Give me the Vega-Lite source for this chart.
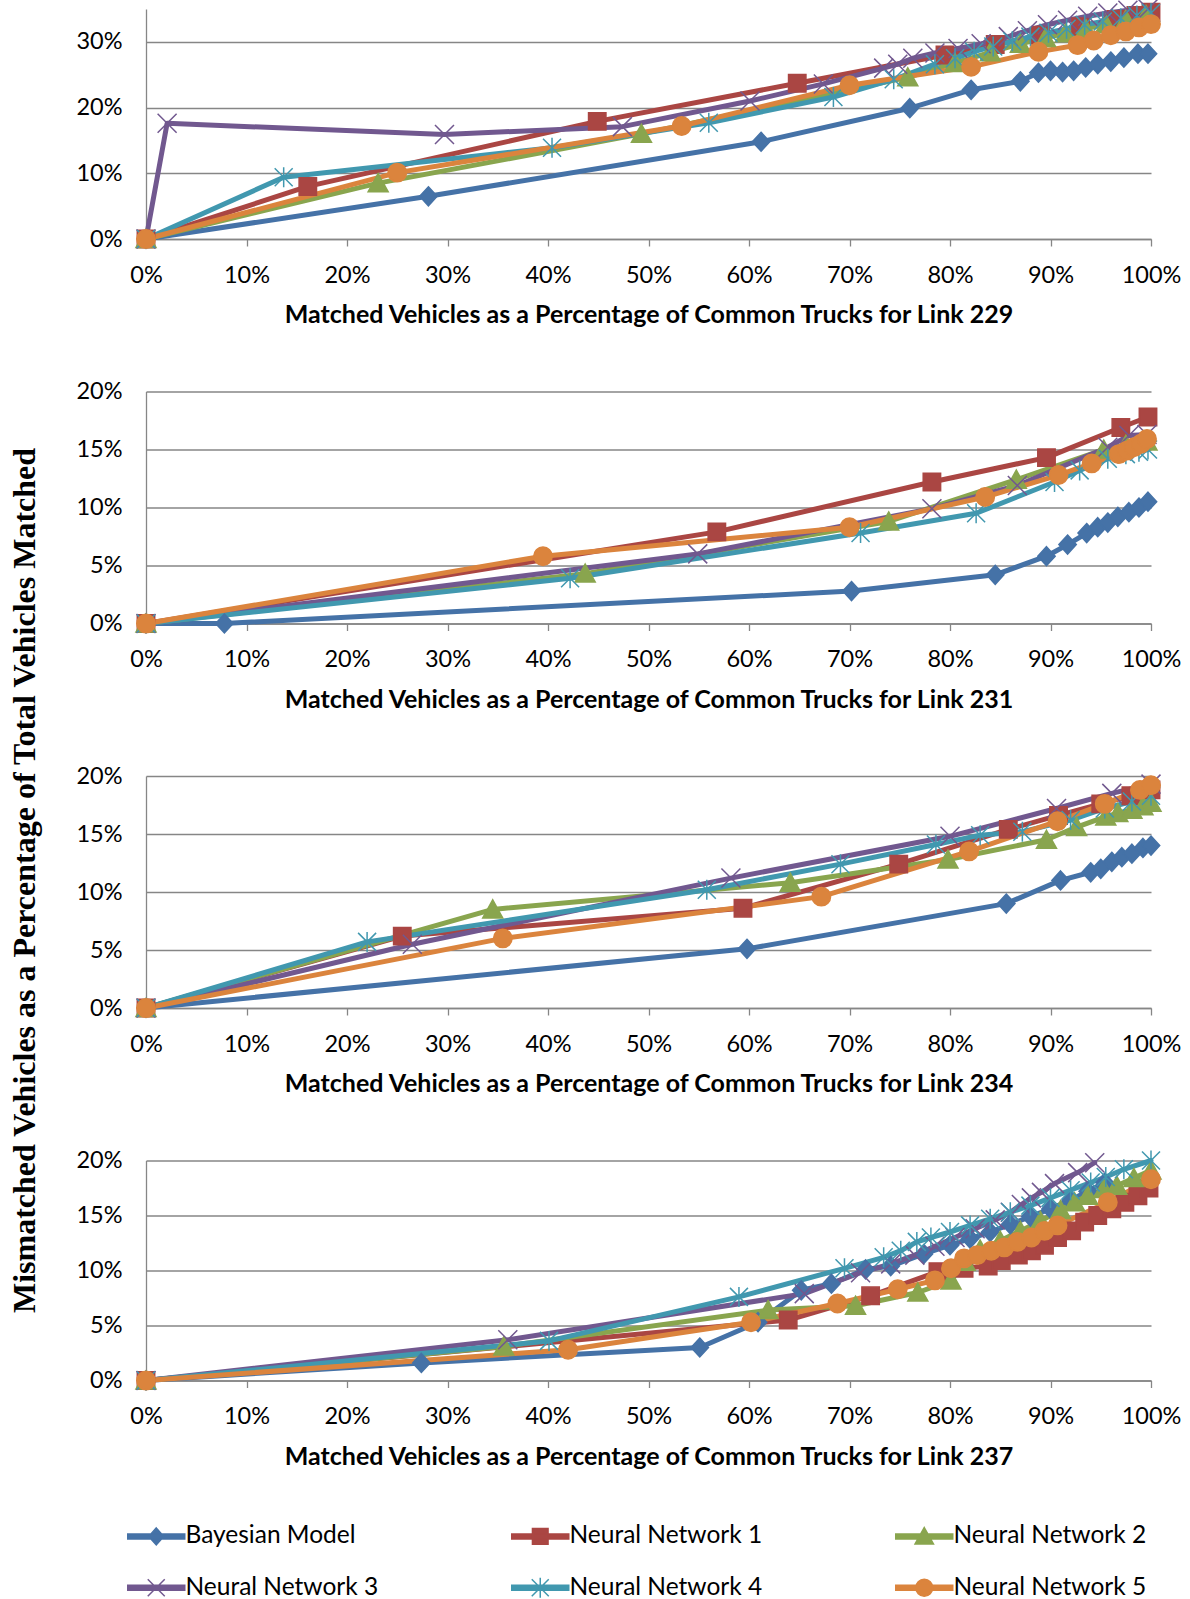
{
  "$schema": "https://vega.github.io/schema/vega-lite/v6.json",
  "background": "white",
  "padding": {"left": 8, "top": -4, "right": 0, "bottom": 0},
  "bounds": "flush",
  "config": {
    "font": "Lato",
    "view": {"stroke": null},
    "concat": {"spacing": 152.5},
    "axis": {
      "domainColor": "#868686", "domainWidth": 1.3,
      "gridColor": "#868686", "gridWidth": 1.3,
      "tickColor": "#868686", "tickWidth": 1.3,
      "labelFont": "Lato", "labelFontSize": 23.5, "labelColor": "#000000",
      "titleFont": "Lato", "titleFontSize": 25, "titleFontWeight": "bold", "titleColor": "#000000",
      "labelOverlap": false
    },
    "axisX": {"grid": false, "tickSize": 7, "labelPadding": 17, "titlePadding": 16, "labelFlush": false},
    "axisY": {"grid": true, "ticks": false, "labelPadding": 24}
  },
  "data": {"values": [
    {"link":229,"series":"Bayesian Model","x":0,"y":0},
    {"link":229,"series":"Bayesian Model","x":28.1,"y":6.5},
    {"link":229,"series":"Bayesian Model","x":61.2,"y":14.8},
    {"link":229,"series":"Bayesian Model","x":76.0,"y":19.9},
    {"link":229,"series":"Bayesian Model","x":82.1,"y":22.7},
    {"link":229,"series":"Bayesian Model","x":87.0,"y":24.0},
    {"link":229,"series":"Bayesian Model","x":88.8,"y":25.3},
    {"link":229,"series":"Bayesian Model","x":90.0,"y":25.6},
    {"link":229,"series":"Bayesian Model","x":91.2,"y":25.4},
    {"link":229,"series":"Bayesian Model","x":92.3,"y":25.6},
    {"link":229,"series":"Bayesian Model","x":93.5,"y":26.1},
    {"link":229,"series":"Bayesian Model","x":94.7,"y":26.6},
    {"link":229,"series":"Bayesian Model","x":96.0,"y":27.0},
    {"link":229,"series":"Bayesian Model","x":97.3,"y":27.6},
    {"link":229,"series":"Bayesian Model","x":98.7,"y":28.2},
    {"link":229,"series":"Bayesian Model","x":99.7,"y":28.2},
    {"link":229,"series":"Neural Network 1","x":0,"y":0},
    {"link":229,"series":"Neural Network 1","x":16.1,"y":8.0},
    {"link":229,"series":"Neural Network 1","x":44.9,"y":17.9},
    {"link":229,"series":"Neural Network 1","x":64.8,"y":23.7},
    {"link":229,"series":"Neural Network 1","x":79.5,"y":28.0},
    {"link":229,"series":"Neural Network 1","x":84.5,"y":29.6},
    {"link":229,"series":"Neural Network 1","x":89.0,"y":31.0},
    {"link":229,"series":"Neural Network 1","x":93.0,"y":32.3},
    {"link":229,"series":"Neural Network 1","x":96.5,"y":33.4},
    {"link":229,"series":"Neural Network 1","x":98.5,"y":34.0},
    {"link":229,"series":"Neural Network 1","x":100,"y":34.5},
    {"link":229,"series":"Neural Network 2","x":0,"y":0},
    {"link":229,"series":"Neural Network 2","x":23.1,"y":8.5},
    {"link":229,"series":"Neural Network 2","x":49.3,"y":16.0},
    {"link":229,"series":"Neural Network 2","x":75.8,"y":24.6},
    {"link":229,"series":"Neural Network 2","x":80.5,"y":26.8},
    {"link":229,"series":"Neural Network 2","x":84.0,"y":28.4},
    {"link":229,"series":"Neural Network 2","x":87.0,"y":29.7},
    {"link":229,"series":"Neural Network 2","x":89.5,"y":30.6},
    {"link":229,"series":"Neural Network 2","x":91.5,"y":31.3},
    {"link":229,"series":"Neural Network 2","x":93.5,"y":32.0},
    {"link":229,"series":"Neural Network 2","x":95.5,"y":32.7},
    {"link":229,"series":"Neural Network 2","x":97.5,"y":33.4},
    {"link":229,"series":"Neural Network 2","x":99.5,"y":34.1},
    {"link":229,"series":"Neural Network 3","x":0,"y":0},
    {"link":229,"series":"Neural Network 3","x":2.1,"y":17.6},
    {"link":229,"series":"Neural Network 3","x":29.7,"y":15.9},
    {"link":229,"series":"Neural Network 3","x":47.4,"y":17.1},
    {"link":229,"series":"Neural Network 3","x":60.1,"y":21.0},
    {"link":229,"series":"Neural Network 3","x":67.4,"y":23.6},
    {"link":229,"series":"Neural Network 3","x":73.4,"y":26.0},
    {"link":229,"series":"Neural Network 3","x":74.8,"y":26.6},
    {"link":229,"series":"Neural Network 3","x":76.3,"y":27.5},
    {"link":229,"series":"Neural Network 3","x":78.5,"y":28.3},
    {"link":229,"series":"Neural Network 3","x":80.8,"y":29.0},
    {"link":229,"series":"Neural Network 3","x":83.1,"y":29.7},
    {"link":229,"series":"Neural Network 3","x":85.8,"y":30.8},
    {"link":229,"series":"Neural Network 3","x":87.7,"y":31.7},
    {"link":229,"series":"Neural Network 3","x":89.7,"y":32.6},
    {"link":229,"series":"Neural Network 3","x":91.7,"y":33.3},
    {"link":229,"series":"Neural Network 3","x":93.7,"y":33.9},
    {"link":229,"series":"Neural Network 3","x":95.7,"y":34.4},
    {"link":229,"series":"Neural Network 3","x":97.7,"y":34.8},
    {"link":229,"series":"Neural Network 3","x":99.7,"y":35.0},
    {"link":229,"series":"Neural Network 4","x":0,"y":0},
    {"link":229,"series":"Neural Network 4","x":13.7,"y":9.4},
    {"link":229,"series":"Neural Network 4","x":40.4,"y":13.9},
    {"link":229,"series":"Neural Network 4","x":56.0,"y":17.7},
    {"link":229,"series":"Neural Network 4","x":68.4,"y":21.6},
    {"link":229,"series":"Neural Network 4","x":74.4,"y":24.3},
    {"link":229,"series":"Neural Network 4","x":78.5,"y":26.6},
    {"link":229,"series":"Neural Network 4","x":80.5,"y":27.5},
    {"link":229,"series":"Neural Network 4","x":82.4,"y":28.5},
    {"link":229,"series":"Neural Network 4","x":84.3,"y":29.3},
    {"link":229,"series":"Neural Network 4","x":86.2,"y":30.1},
    {"link":229,"series":"Neural Network 4","x":88.0,"y":30.8},
    {"link":229,"series":"Neural Network 4","x":89.8,"y":31.4},
    {"link":229,"series":"Neural Network 4","x":91.6,"y":32.0},
    {"link":229,"series":"Neural Network 4","x":93.4,"y":32.6},
    {"link":229,"series":"Neural Network 4","x":95.2,"y":33.1},
    {"link":229,"series":"Neural Network 4","x":97.0,"y":33.6},
    {"link":229,"series":"Neural Network 4","x":98.6,"y":34.0},
    {"link":229,"series":"Neural Network 4","x":100,"y":34.4},
    {"link":229,"series":"Neural Network 5","x":0,"y":0},
    {"link":229,"series":"Neural Network 5","x":25.0,"y":10.1},
    {"link":229,"series":"Neural Network 5","x":53.3,"y":17.2},
    {"link":229,"series":"Neural Network 5","x":70.0,"y":23.4},
    {"link":229,"series":"Neural Network 5","x":82.1,"y":26.2},
    {"link":229,"series":"Neural Network 5","x":88.8,"y":28.5},
    {"link":229,"series":"Neural Network 5","x":92.7,"y":29.5},
    {"link":229,"series":"Neural Network 5","x":94.3,"y":30.2},
    {"link":229,"series":"Neural Network 5","x":96.0,"y":31.0},
    {"link":229,"series":"Neural Network 5","x":97.5,"y":31.6},
    {"link":229,"series":"Neural Network 5","x":98.8,"y":32.2},
    {"link":229,"series":"Neural Network 5","x":100,"y":32.7},

    {"link":231,"series":"Bayesian Model","x":0,"y":0},
    {"link":231,"series":"Bayesian Model","x":7.8,"y":0},
    {"link":231,"series":"Bayesian Model","x":70.2,"y":2.8},
    {"link":231,"series":"Bayesian Model","x":84.5,"y":4.2},
    {"link":231,"series":"Bayesian Model","x":89.6,"y":5.8},
    {"link":231,"series":"Bayesian Model","x":91.7,"y":6.8},
    {"link":231,"series":"Bayesian Model","x":93.6,"y":7.8},
    {"link":231,"series":"Bayesian Model","x":94.7,"y":8.3},
    {"link":231,"series":"Bayesian Model","x":95.7,"y":8.7},
    {"link":231,"series":"Bayesian Model","x":96.7,"y":9.2},
    {"link":231,"series":"Bayesian Model","x":97.8,"y":9.6},
    {"link":231,"series":"Bayesian Model","x":98.8,"y":10.0},
    {"link":231,"series":"Bayesian Model","x":99.7,"y":10.5},
    {"link":231,"series":"Neural Network 1","x":0,"y":0},
    {"link":231,"series":"Neural Network 1","x":56.8,"y":7.9},
    {"link":231,"series":"Neural Network 1","x":78.2,"y":12.2},
    {"link":231,"series":"Neural Network 1","x":89.6,"y":14.3},
    {"link":231,"series":"Neural Network 1","x":97.0,"y":16.9},
    {"link":231,"series":"Neural Network 1","x":99.7,"y":17.8},
    {"link":231,"series":"Neural Network 2","x":0,"y":0},
    {"link":231,"series":"Neural Network 2","x":43.7,"y":4.3},
    {"link":231,"series":"Neural Network 2","x":73.9,"y":8.8},
    {"link":231,"series":"Neural Network 2","x":86.6,"y":12.4},
    {"link":231,"series":"Neural Network 2","x":95.3,"y":15.0},
    {"link":231,"series":"Neural Network 2","x":97.5,"y":15.4},
    {"link":231,"series":"Neural Network 2","x":99.6,"y":15.7},
    {"link":231,"series":"Neural Network 3","x":0,"y":0},
    {"link":231,"series":"Neural Network 3","x":54.9,"y":6.0},
    {"link":231,"series":"Neural Network 3","x":78.2,"y":9.9},
    {"link":231,"series":"Neural Network 3","x":86.7,"y":11.9},
    {"link":231,"series":"Neural Network 3","x":95.7,"y":15.2},
    {"link":231,"series":"Neural Network 3","x":97.8,"y":16.2},
    {"link":231,"series":"Neural Network 3","x":99.6,"y":16.3},
    {"link":231,"series":"Neural Network 4","x":0,"y":0},
    {"link":231,"series":"Neural Network 4","x":42.2,"y":3.9},
    {"link":231,"series":"Neural Network 4","x":71.1,"y":7.8},
    {"link":231,"series":"Neural Network 4","x":82.6,"y":9.5},
    {"link":231,"series":"Neural Network 4","x":90.4,"y":12.2},
    {"link":231,"series":"Neural Network 4","x":92.9,"y":13.2},
    {"link":231,"series":"Neural Network 4","x":95.7,"y":14.2},
    {"link":231,"series":"Neural Network 4","x":97.5,"y":14.6},
    {"link":231,"series":"Neural Network 4","x":98.8,"y":14.8},
    {"link":231,"series":"Neural Network 4","x":99.7,"y":15.0},
    {"link":231,"series":"Neural Network 5","x":0,"y":0},
    {"link":231,"series":"Neural Network 5","x":39.5,"y":5.8},
    {"link":231,"series":"Neural Network 5","x":70.0,"y":8.3},
    {"link":231,"series":"Neural Network 5","x":83.5,"y":10.9},
    {"link":231,"series":"Neural Network 5","x":90.8,"y":12.8},
    {"link":231,"series":"Neural Network 5","x":94.1,"y":13.8},
    {"link":231,"series":"Neural Network 5","x":96.8,"y":14.6},
    {"link":231,"series":"Neural Network 5","x":97.6,"y":14.9},
    {"link":231,"series":"Neural Network 5","x":98.3,"y":15.2},
    {"link":231,"series":"Neural Network 5","x":99.0,"y":15.5},
    {"link":231,"series":"Neural Network 5","x":99.6,"y":15.9},

    {"link":234,"series":"Bayesian Model","x":0,"y":0},
    {"link":234,"series":"Bayesian Model","x":59.8,"y":5.1},
    {"link":234,"series":"Bayesian Model","x":85.6,"y":9.0},
    {"link":234,"series":"Bayesian Model","x":91.0,"y":11.0},
    {"link":234,"series":"Bayesian Model","x":94.0,"y":11.7},
    {"link":234,"series":"Bayesian Model","x":95.0,"y":12.0},
    {"link":234,"series":"Bayesian Model","x":96.1,"y":12.6},
    {"link":234,"series":"Bayesian Model","x":97.1,"y":13.0},
    {"link":234,"series":"Bayesian Model","x":98.1,"y":13.3},
    {"link":234,"series":"Bayesian Model","x":99.2,"y":13.8},
    {"link":234,"series":"Bayesian Model","x":100,"y":14.0},
    {"link":234,"series":"Neural Network 1","x":0,"y":0},
    {"link":234,"series":"Neural Network 1","x":25.5,"y":6.2},
    {"link":234,"series":"Neural Network 1","x":59.4,"y":8.6},
    {"link":234,"series":"Neural Network 1","x":74.9,"y":12.4},
    {"link":234,"series":"Neural Network 1","x":85.8,"y":15.4},
    {"link":234,"series":"Neural Network 1","x":90.8,"y":16.6},
    {"link":234,"series":"Neural Network 1","x":95.0,"y":17.6},
    {"link":234,"series":"Neural Network 1","x":98.0,"y":18.3},
    {"link":234,"series":"Neural Network 1","x":100,"y":18.8},
    {"link":234,"series":"Neural Network 2","x":0,"y":0},
    {"link":234,"series":"Neural Network 2","x":34.5,"y":8.5},
    {"link":234,"series":"Neural Network 2","x":64.1,"y":10.8},
    {"link":234,"series":"Neural Network 2","x":79.8,"y":12.8},
    {"link":234,"series":"Neural Network 2","x":89.6,"y":14.5},
    {"link":234,"series":"Neural Network 2","x":92.6,"y":15.6},
    {"link":234,"series":"Neural Network 2","x":95.5,"y":16.5},
    {"link":234,"series":"Neural Network 2","x":96.7,"y":16.8},
    {"link":234,"series":"Neural Network 2","x":98.1,"y":17.1},
    {"link":234,"series":"Neural Network 2","x":99.2,"y":17.4},
    {"link":234,"series":"Neural Network 2","x":100,"y":17.7},
    {"link":234,"series":"Neural Network 3","x":0,"y":0},
    {"link":234,"series":"Neural Network 3","x":26.5,"y":5.5},
    {"link":234,"series":"Neural Network 3","x":58.2,"y":11.2},
    {"link":234,"series":"Neural Network 3","x":80.0,"y":14.8},
    {"link":234,"series":"Neural Network 3","x":90.6,"y":17.2},
    {"link":234,"series":"Neural Network 3","x":96.1,"y":18.5},
    {"link":234,"series":"Neural Network 3","x":100,"y":19.3},
    {"link":234,"series":"Neural Network 4","x":0,"y":0},
    {"link":234,"series":"Neural Network 4","x":22.0,"y":5.7},
    {"link":234,"series":"Neural Network 4","x":55.8,"y":10.2},
    {"link":234,"series":"Neural Network 4","x":69.1,"y":12.4},
    {"link":234,"series":"Neural Network 4","x":78.6,"y":14.1},
    {"link":234,"series":"Neural Network 4","x":83.0,"y":14.9},
    {"link":234,"series":"Neural Network 4","x":87.2,"y":15.2},
    {"link":234,"series":"Neural Network 4","x":92.0,"y":16.2},
    {"link":234,"series":"Neural Network 4","x":95.4,"y":17.2},
    {"link":234,"series":"Neural Network 4","x":98.1,"y":17.8},
    {"link":234,"series":"Neural Network 4","x":100,"y":18.3},
    {"link":234,"series":"Neural Network 5","x":0,"y":0},
    {"link":234,"series":"Neural Network 5","x":35.5,"y":6.0},
    {"link":234,"series":"Neural Network 5","x":67.2,"y":9.6},
    {"link":234,"series":"Neural Network 5","x":81.9,"y":13.5},
    {"link":234,"series":"Neural Network 5","x":90.7,"y":16.1},
    {"link":234,"series":"Neural Network 5","x":95.4,"y":17.6},
    {"link":234,"series":"Neural Network 5","x":98.9,"y":18.8},
    {"link":234,"series":"Neural Network 5","x":100,"y":19.2},

    {"link":237,"series":"Bayesian Model","x":0,"y":0},
    {"link":237,"series":"Bayesian Model","x":27.4,"y":1.6},
    {"link":237,"series":"Bayesian Model","x":55.1,"y":3.0},
    {"link":237,"series":"Bayesian Model","x":60.9,"y":5.3},
    {"link":237,"series":"Bayesian Model","x":65.2,"y":8.2},
    {"link":237,"series":"Bayesian Model","x":68.2,"y":8.8},
    {"link":237,"series":"Bayesian Model","x":71.6,"y":10.1},
    {"link":237,"series":"Bayesian Model","x":74.1,"y":10.4},
    {"link":237,"series":"Bayesian Model","x":77.4,"y":11.5},
    {"link":237,"series":"Bayesian Model","x":80.0,"y":12.3},
    {"link":237,"series":"Bayesian Model","x":82.0,"y":12.9},
    {"link":237,"series":"Bayesian Model","x":84.0,"y":13.5},
    {"link":237,"series":"Bayesian Model","x":86.0,"y":14.2},
    {"link":237,"series":"Bayesian Model","x":88.0,"y":14.9},
    {"link":237,"series":"Bayesian Model","x":90.0,"y":15.6},
    {"link":237,"series":"Bayesian Model","x":92.0,"y":16.4},
    {"link":237,"series":"Bayesian Model","x":93.7,"y":17.2},
    {"link":237,"series":"Bayesian Model","x":95.4,"y":18.0},
    {"link":237,"series":"Neural Network 1","x":0,"y":0},
    {"link":237,"series":"Neural Network 1","x":63.9,"y":5.5},
    {"link":237,"series":"Neural Network 1","x":72.1,"y":7.7},
    {"link":237,"series":"Neural Network 1","x":78.8,"y":9.9},
    {"link":237,"series":"Neural Network 1","x":81.4,"y":10.2},
    {"link":237,"series":"Neural Network 1","x":83.8,"y":10.4},
    {"link":237,"series":"Neural Network 1","x":85.1,"y":10.9},
    {"link":237,"series":"Neural Network 1","x":86.8,"y":11.4},
    {"link":237,"series":"Neural Network 1","x":88.1,"y":11.8},
    {"link":237,"series":"Neural Network 1","x":89.4,"y":12.3},
    {"link":237,"series":"Neural Network 1","x":90.7,"y":13.0},
    {"link":237,"series":"Neural Network 1","x":92.1,"y":13.6},
    {"link":237,"series":"Neural Network 1","x":93.4,"y":14.4},
    {"link":237,"series":"Neural Network 1","x":94.7,"y":15.0},
    {"link":237,"series":"Neural Network 1","x":96.1,"y":15.6},
    {"link":237,"series":"Neural Network 1","x":97.4,"y":16.2},
    {"link":237,"series":"Neural Network 1","x":98.7,"y":16.8},
    {"link":237,"series":"Neural Network 1","x":99.8,"y":17.5},
    {"link":237,"series":"Neural Network 2","x":0,"y":0},
    {"link":237,"series":"Neural Network 2","x":35.6,"y":3.1},
    {"link":237,"series":"Neural Network 2","x":61.9,"y":6.4},
    {"link":237,"series":"Neural Network 2","x":70.6,"y":6.8},
    {"link":237,"series":"Neural Network 2","x":76.8,"y":8.0},
    {"link":237,"series":"Neural Network 2","x":80.1,"y":9.1},
    {"link":237,"series":"Neural Network 2","x":81.5,"y":10.8},
    {"link":237,"series":"Neural Network 2","x":83.0,"y":11.9},
    {"link":237,"series":"Neural Network 2","x":85.0,"y":12.7},
    {"link":237,"series":"Neural Network 2","x":87.0,"y":13.6},
    {"link":237,"series":"Neural Network 2","x":89.0,"y":14.5},
    {"link":237,"series":"Neural Network 2","x":91.0,"y":15.5},
    {"link":237,"series":"Neural Network 2","x":92.4,"y":16.2},
    {"link":237,"series":"Neural Network 2","x":93.7,"y":16.8},
    {"link":237,"series":"Neural Network 2","x":95.3,"y":17.4},
    {"link":237,"series":"Neural Network 2","x":96.6,"y":17.7},
    {"link":237,"series":"Neural Network 2","x":98.3,"y":18.4},
    {"link":237,"series":"Neural Network 2","x":100,"y":19.1},
    {"link":237,"series":"Neural Network 3","x":0,"y":0},
    {"link":237,"series":"Neural Network 3","x":36.0,"y":3.7},
    {"link":237,"series":"Neural Network 3","x":65.5,"y":7.9},
    {"link":237,"series":"Neural Network 3","x":71.1,"y":9.8},
    {"link":237,"series":"Neural Network 3","x":74.1,"y":10.6},
    {"link":237,"series":"Neural Network 3","x":76.5,"y":11.4},
    {"link":237,"series":"Neural Network 3","x":78.5,"y":12.2},
    {"link":237,"series":"Neural Network 3","x":80.5,"y":13.0},
    {"link":237,"series":"Neural Network 3","x":82.5,"y":13.8},
    {"link":237,"series":"Neural Network 3","x":84.5,"y":14.6},
    {"link":237,"series":"Neural Network 3","x":86.0,"y":15.3},
    {"link":237,"series":"Neural Network 3","x":87.1,"y":16.0},
    {"link":237,"series":"Neural Network 3","x":88.1,"y":16.6},
    {"link":237,"series":"Neural Network 3","x":89.1,"y":17.1},
    {"link":237,"series":"Neural Network 3","x":90.4,"y":17.9},
    {"link":237,"series":"Neural Network 3","x":92.7,"y":18.9},
    {"link":237,"series":"Neural Network 3","x":94.4,"y":19.8},
    {"link":237,"series":"Neural Network 4","x":0,"y":0},
    {"link":237,"series":"Neural Network 4","x":40.1,"y":3.6},
    {"link":237,"series":"Neural Network 4","x":59.0,"y":7.6},
    {"link":237,"series":"Neural Network 4","x":69.5,"y":10.2},
    {"link":237,"series":"Neural Network 4","x":73.4,"y":11.2},
    {"link":237,"series":"Neural Network 4","x":75.1,"y":11.8},
    {"link":237,"series":"Neural Network 4","x":76.7,"y":12.6},
    {"link":237,"series":"Neural Network 4","x":78.1,"y":13.0},
    {"link":237,"series":"Neural Network 4","x":80.0,"y":13.5},
    {"link":237,"series":"Neural Network 4","x":82.0,"y":14.1},
    {"link":237,"series":"Neural Network 4","x":84.0,"y":14.7},
    {"link":237,"series":"Neural Network 4","x":86.0,"y":15.3},
    {"link":237,"series":"Neural Network 4","x":88.0,"y":15.9},
    {"link":237,"series":"Neural Network 4","x":90.0,"y":16.6},
    {"link":237,"series":"Neural Network 4","x":92.0,"y":17.3},
    {"link":237,"series":"Neural Network 4","x":94.0,"y":18.0},
    {"link":237,"series":"Neural Network 4","x":95.5,"y":18.5},
    {"link":237,"series":"Neural Network 4","x":97.3,"y":19.2},
    {"link":237,"series":"Neural Network 4","x":100,"y":20.0},
    {"link":237,"series":"Neural Network 5","x":0,"y":0},
    {"link":237,"series":"Neural Network 5","x":42.0,"y":2.8},
    {"link":237,"series":"Neural Network 5","x":60.2,"y":5.3},
    {"link":237,"series":"Neural Network 5","x":68.8,"y":7.0},
    {"link":237,"series":"Neural Network 5","x":74.8,"y":8.3},
    {"link":237,"series":"Neural Network 5","x":78.5,"y":9.1},
    {"link":237,"series":"Neural Network 5","x":80.1,"y":10.2},
    {"link":237,"series":"Neural Network 5","x":81.4,"y":11.1},
    {"link":237,"series":"Neural Network 5","x":82.7,"y":11.4},
    {"link":237,"series":"Neural Network 5","x":84.1,"y":11.8},
    {"link":237,"series":"Neural Network 5","x":85.4,"y":12.1},
    {"link":237,"series":"Neural Network 5","x":86.7,"y":12.6},
    {"link":237,"series":"Neural Network 5","x":88.1,"y":13.0},
    {"link":237,"series":"Neural Network 5","x":89.4,"y":13.6},
    {"link":237,"series":"Neural Network 5","x":90.7,"y":14.1},
    {"link":237,"series":"Neural Network 5","x":95.7,"y":16.2},
    {"link":237,"series":"Neural Network 5","x":100,"y":18.3}
  ]},
  "vconcat": [
    {
      "width": 1005, "height": 230,
      "transform": [{"filter": "datum.link == 229"}],
      "encoding": {
        "x": {"field": "x", "type": "quantitative", "scale": {"domain": [0, 100], "nice": false},
              "axis": {"values": [0,10,20,30,40,50,60,70,80,90,100], "labelExpr": "datum.value + '%'", "title": "Matched Vehicles as a Percentage of Common Trucks for Link 229"}},
        "y": {"field": "y", "type": "quantitative", "scale": {"domain": [0, 35], "nice": false},
              "axis": {"values": [0,10,20,30], "labelExpr": "datum.value + '%'", "title": null}},
        "color": {"field": "series", "type": "nominal",
                  "scale": {"domain": ["Bayesian Model","Neural Network 1","Neural Network 2","Neural Network 3","Neural Network 4","Neural Network 5"],
                            "range": ["#4572A7","#AA4643","#89A54E","#71588F","#4198AF","#DB843D"]},
                  "legend": {"orient": "none", "legendX": -2, "legendY": 1514, "direction": "horizontal", "columns": 3, "title": null,
                             "gridAlign": "all", "symbolSize": 400, "labelFont": "Lato", "labelFontSize": 24.5, "labelColor": "#000000",
                             "labelOffset": 17, "labelLimit": 400, "columnPadding": 129, "rowPadding": 25.5,
                             "encode": {"symbols": {"update": {
                               "shape": {"signal": "['M-2.85,-0.25H2.85V0.25H-2.85ZM0,-0.85L0.75,0L0,0.85L-0.75,0Z','M-2.85,-0.25H2.85V0.25H-2.85ZM-0.78,-0.78H0.78V0.78H-0.78Z','M-2.85,-0.25H2.85V0.25H-2.85ZM0,-0.88L0.92,0.75H-0.92Z','M-2.85,-0.25H2.85V0.25H-2.85ZM-0.85,-0.85L0.85,0.85M-0.85,0.85L0.85,-0.85','M-2.85,-0.25H2.85V0.25H-2.85ZM-0.85,-0.85L0.85,0.85M-0.85,0.85L0.85,-0.85M0,-1L0,1','M-2.85,-0.25H2.85V0.25H-2.85ZM-0.85,0A0.85,0.85,0,1,1,0.85,0A0.85,0.85,0,1,1,-0.85,0Z'][indexof(['Bayesian Model','Neural Network 1','Neural Network 2','Neural Network 3','Neural Network 4','Neural Network 5'], datum.value)]"},
                               "strokeWidth": {"value": 1.5},
                               "size": {"value": 400},
                               "opacity": {"value": 1}
                             }}}}}
      },
      "layer": [
        {"mark": {"type": "line", "strokeWidth": 5, "strokeJoin": "round", "strokeCap": "round"}},
        {"mark": {"type": "point", "filled": true, "opacity": 1, "size": 400, "strokeWidth": 1.5},
         "encoding": {
           "shape": {"field": "series", "type": "nominal", "legend": null,
                     "scale": {"domain": ["Neural Network 5","Neural Network 4","Neural Network 3","Neural Network 2","Neural Network 1","Bayesian Model"],
                               "range": ["M-0.92,0A0.92,0.92,0,1,1,0.92,0A0.92,0.92,0,1,1,-0.92,0Z","M-0.9,-0.9L0.9,0.9M-0.9,0.9L0.9,-0.9M0,-1L0,1","M-0.95,-0.95L0.95,0.95M-0.95,0.95L0.95,-0.95","M0,-0.95L1,0.85H-1Z","M-0.87,-0.87H0.87V0.87H-0.87Z","M0,-0.95L0.87,0L0,0.95L-0.87,0Z"]}},
           "stroke": {"field": "series", "type": "nominal", "legend": null,
                      "scale": {"domain": ["Bayesian Model","Neural Network 1","Neural Network 2","Neural Network 3","Neural Network 4","Neural Network 5"],
                                "range": ["#4572A7","#AA4643","#89A54E","#71588F","#4198AF","#DB843D"]}}
         }}
      ]
    },
    {
      "width": 1005, "height": 232,
      "transform": [{"filter": "datum.link == 231"}],
      "encoding": {
        "x": {"field": "x", "type": "quantitative", "scale": {"domain": [0, 100], "nice": false},
              "axis": {"values": [0,10,20,30,40,50,60,70,80,90,100], "labelExpr": "datum.value + '%'", "title": "Matched Vehicles as a Percentage of Common Trucks for Link 231"}},
        "y": {"field": "y", "type": "quantitative", "scale": {"domain": [0, 20], "nice": false},
              "axis": {"values": [0,5,10,15,20], "labelExpr": "datum.value + '%'", "title": null}},
        "color": {"field": "series", "type": "nominal"}
      },
      "layer": [
        {"mark": {"type": "line", "strokeWidth": 5, "strokeJoin": "round", "strokeCap": "round"}},
        {"mark": {"type": "point", "filled": true, "opacity": 1, "size": 400, "strokeWidth": 1.5},
         "encoding": {
           "shape": {"field": "series", "type": "nominal", "legend": null},
           "stroke": {"field": "series", "type": "nominal", "legend": null}
         }}
      ]
    },
    {
      "width": 1005, "height": 232,
      "transform": [{"filter": "datum.link == 234"}],
      "encoding": {
        "x": {"field": "x", "type": "quantitative", "scale": {"domain": [0, 100], "nice": false},
              "axis": {"values": [0,10,20,30,40,50,60,70,80,90,100], "labelExpr": "datum.value + '%'", "title": "Matched Vehicles as a Percentage of Common Trucks for Link 234"}},
        "y": {"field": "y", "type": "quantitative", "scale": {"domain": [0, 20], "nice": false},
              "axis": {"values": [0,5,10,15,20], "labelExpr": "datum.value + '%'",
                       "title": "Mismatched Vehicles as a Percentage of Total Vehicles Matched",
                       "titleFont": "Liberation Serif", "titleFontSize": 32, "titleFontWeight": "bold",
                       "titleAngle": 270, "titleAlign": "center", "titleBaseline": "middle", "titleX": -121.5, "titleY": 104}},
        "color": {"field": "series", "type": "nominal"}
      },
      "layer": [
        {"mark": {"type": "line", "strokeWidth": 5, "strokeJoin": "round", "strokeCap": "round"}},
        {"mark": {"type": "point", "filled": true, "opacity": 1, "size": 400, "strokeWidth": 1.5},
         "encoding": {
           "shape": {"field": "series", "type": "nominal", "legend": null},
           "stroke": {"field": "series", "type": "nominal", "legend": null}
         }}
      ]
    },
    {
      "width": 1005, "height": 220,
      "transform": [{"filter": "datum.link == 237"}],
      "encoding": {
        "x": {"field": "x", "type": "quantitative", "scale": {"domain": [0, 100], "nice": false},
              "axis": {"values": [0,10,20,30,40,50,60,70,80,90,100], "labelExpr": "datum.value + '%'", "title": "Matched Vehicles as a Percentage of Common Trucks for Link 237"}},
        "y": {"field": "y", "type": "quantitative", "scale": {"domain": [0, 20], "nice": false},
              "axis": {"values": [0,5,10,15,20], "labelExpr": "datum.value + '%'", "title": null}},
        "color": {"field": "series", "type": "nominal"}
      },
      "layer": [
        {"mark": {"type": "line", "strokeWidth": 5, "strokeJoin": "round", "strokeCap": "round"}},
        {"mark": {"type": "point", "filled": true, "opacity": 1, "size": 400, "strokeWidth": 1.5},
         "encoding": {
           "shape": {"field": "series", "type": "nominal", "legend": null},
           "stroke": {"field": "series", "type": "nominal", "legend": null}
         }}
      ]
    }
  ]
}
